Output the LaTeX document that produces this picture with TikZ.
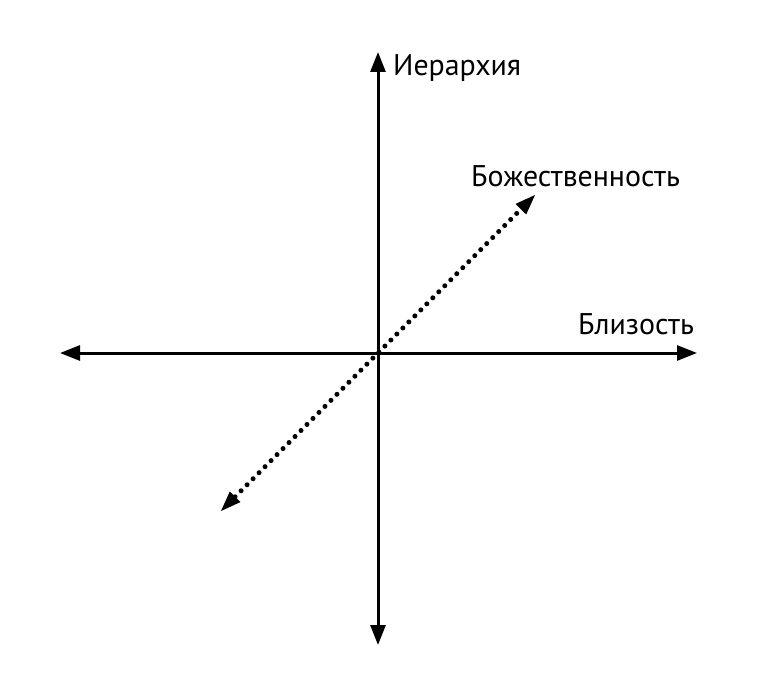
\documentclass[tikz,border=0pt]{standalone}
\usepackage{fontspec}
\setmainfont{PT Sans}
\usetikzlibrary{arrows.meta}
\begin{document}
\begin{tikzpicture}[x=1bp,y=-1bp,
  axis/.style={line width=3bp,{Triangle[length=20bp,width=15bp]}-{Triangle[length=20bp,width=15bp]}},
  dotted axis/.style={line width=5bp,line cap=round,dash pattern=on 0bp off 8.5bp,{Triangle[length=20bp,width=15bp,line cap=butt,line width=0pt]}-{Triangle[length=20bp,width=15bp,line cap=butt,line width=0pt]}},
  lbl/.style={font=\fontsize{30}{33}\selectfont,inner sep=0pt,anchor=base west}]
\useasboundingbox (0,0) rectangle (776,677);
\coordinate (top) at (378,52);
\coordinate (bottom) at (378,645);
\coordinate (left) at (60,353);
\coordinate (right) at (697,353);
\coordinate (dl) at (221,511);
\coordinate (ur) at (535,195);
\draw[axis] (bottom) -- (top);
\draw[axis] (left) -- (right);
\draw[dotted axis] (dl) -- (ur);
\node[lbl] (h) at (393,76) {Иерархия};
\node[lbl] (d) at (471,186) {Божественность};
\node[lbl] (b) at (578,334) {Близость};
\end{tikzpicture}
\end{document}
